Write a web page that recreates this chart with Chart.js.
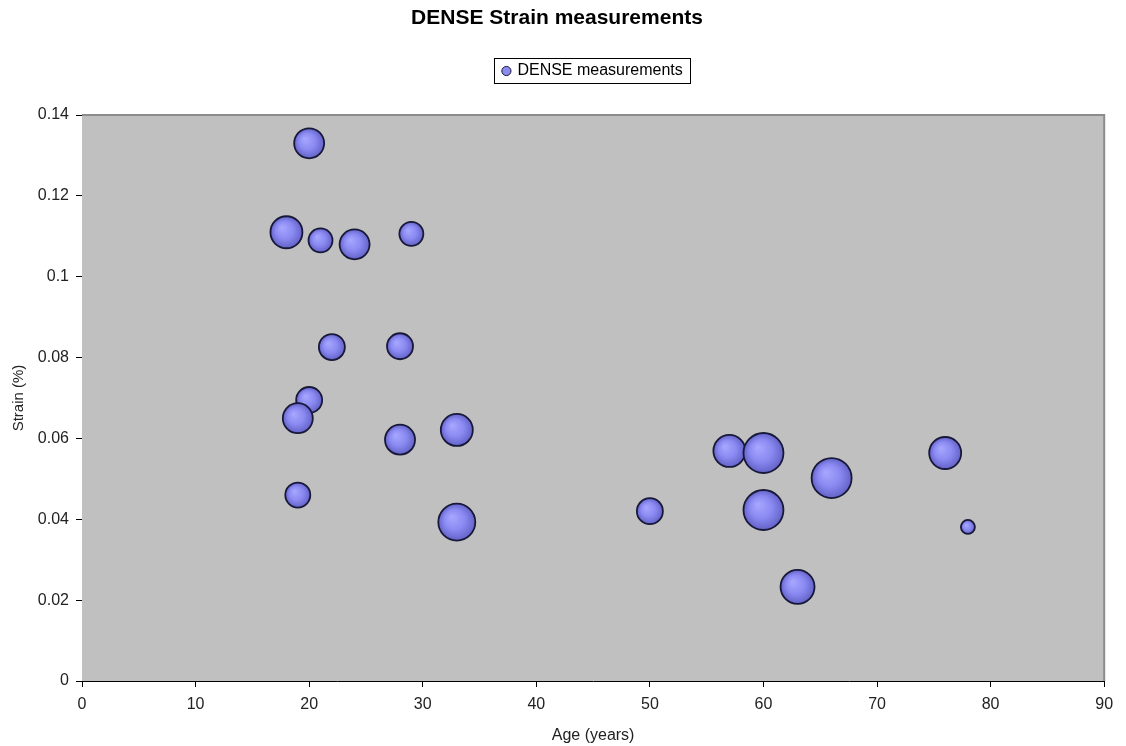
<!DOCTYPE html>
<html>
<head>
<meta charset="utf-8">
<title>DENSE Strain measurements</title>
<script src="https://cdn.jsdelivr.net/npm/chart.js@4/dist/chart.umd.min.js"></script>
<style>
    html, body { margin: 0; padding: 0; background: #fff; }
    #wrap { width: 1126px; height: 746px; }
</style>
</head>
<body>
<div id="wrap"><canvas id="strainGraf" width="1126" height="746"></canvas></div>
<script>
// values
var ages    = [20,    18,    21,    24,    29,     22,     28,     20,     19,    19,    28,     33,     33,     50,    57,     60,     66,     60,     63,     76,     78];
var strains = [0.133, 0.111, 0.109, 0.108, 0.1106, 0.0826, 0.0828, 0.0695, 0.065, 0.046, 0.0597, 0.0621, 0.0393, 0.042, 0.0569, 0.0564, 0.0502, 0.0423, 0.0233, 0.0564, 0.0381];
var sizes   = [15,    16,    12,    15,    12,     13,     13,     13,     15,    12.5,  15,     16,     18.5,   13,    16,     20,     20,     20,     17,     16,     7];
var xTicks = [0, 10, 20, 30, 40, 50, 60, 70, 80, 90];
var yTicks = [0, 0.02, 0.04, 0.06, 0.08, 0.1, 0.12, 0.14];

var points = [];
for (var i = 0; i < ages.length; i++) {
    points.push({x: ages[i], y: strains[i], r: sizes[i]});
}

var fontName = "'Liberation Sans', Arial, sans-serif";

// gray plot area with light top/right edge, box round the legend
var excelLook = {
    id: 'excelLook',
    beforeLayout: function (chart) {
        var lg = chart.legend;
        if (lg && !lg._extra) {
            var f = lg.fit;
            lg.fit = function () { f.call(this); this.height += 26; };
            lg._extra = true;
        }
    },
    beforeDatasetsDraw: function (chart) {
        var a = chart.chartArea, ctx = chart.ctx;
        ctx.save();
        ctx.fillStyle = '#c0c0c0';
        ctx.fillRect(a.left, a.top, a.right - a.left, a.bottom - a.top);
        ctx.strokeStyle = '#8c8c8c';
        ctx.lineWidth = 2;
        ctx.beginPath();
        ctx.moveTo(a.left, a.top);
        ctx.lineTo(a.right, a.top);
        ctx.lineTo(a.right, a.bottom);
        ctx.stroke();
        ctx.restore();
    },
    afterDraw: function (chart) {
        var hb = chart.legend.legendHitBoxes[0];
        if (!hb) return;
        var ctx = chart.ctx;
        ctx.save();
        ctx.strokeStyle = '#000';
        ctx.lineWidth = 1;
        ctx.strokeRect(Math.round(hb.left - 9) + 0.5, Math.round(hb.top - 5) + 0.5,
            Math.round(hb.width + 17), Math.round(hb.height + 9));
        ctx.restore();
    }
};

function bubbleFill(c) {
    if (c.type !== 'data' || !c.raw) return '#8c8cf0';
    var chart = c.chart, p = c.raw;
    var x = chart.scales.x.getPixelForValue(p.x);
    var y = chart.scales.y.getPixelForValue(p.y);
    if (!isFinite(x) || !isFinite(y)) return '#8c8cf0';
    var g = chart.ctx.createRadialGradient(x - p.r * 0.3, y - p.r * 0.3, 0, x, y, p.r);
    g.addColorStop(0, '#a8a8ff');
    g.addColorStop(0.55, '#8a8af2');
    g.addColorStop(1, '#6262c8');
    return g;
}

var ctxStrain = document.getElementById('strainGraf').getContext('2d');
var strainGraf = new Chart(ctxStrain, {
    type: 'bubble',
    data: {
        datasets: [{
            label: 'DENSE measurements',
            data: points,
            backgroundColor: bubbleFill,
            borderColor: '#181838',
            borderWidth: 1.8,
            hoverRadius: 0
        }]
    },
    options: {
        responsive: false,
        animation: false,
        events: [],
        layout: { padding: { left: 8, right: 20, top: 0, bottom: 1 } },
        plugins: {
            title: {
                display: true,
                text: 'DENSE Strain measurements',
                color: '#000',
                font: { family: fontName, size: 21, weight: 'bold' },
                padding: { top: 6, bottom: 21.8 }
            },
            legend: {
                display: true,
                position: 'top',
                fullSize: false,
                labels: {
                    color: '#000',
                    font: { family: fontName, size: 16 },
                    usePointStyle: true,
                    boxWidth: 6,
                    boxHeight: 6.5,
                    padding: 10,
                    generateLabels: function () {
                        return [{
                            text: 'DENSE measurements',
                            fillStyle: '#8c8cf0',
                            strokeStyle: '#181838',
                            lineWidth: 1,
                            pointStyle: 'circle',
                            datasetIndex: 0
                        }];
                    }
                }
            },
            tooltip: { enabled: false }
        },
        scales: {
            x: {
                type: 'linear',
                min: 0,
                max: 90,
                afterBuildTicks: function (scale) {
                    scale.ticks = xTicks.map(function (v) { return {value: v}; });
                },
                afterFit: function (scale) { scale.height = 746 - 681 - 1; },
                grid: { display: true, drawOnChartArea: false, drawTicks: true, tickLength: 6, color: '#000' },
                border: { display: true, color: '#000', width: 1 },
                ticks: { color: '#222', font: { family: fontName, size: 16 }, padding: 8 },
                title: {
                    display: true,
                    text: 'Age (years)',
                    color: '#222',
                    font: { family: fontName, size: 16 },
                    padding: { top: 0, bottom: 0 }
                }
            },
            y: {
                type: 'linear',
                min: 0,
                max: 0.14,
                afterBuildTicks: function (scale) {
                    scale.ticks = yTicks.map(function (v) { return {value: v}; });
                },
                afterFit: function (scale) { scale.width = 82 - 8; },
                grid: { display: true, drawOnChartArea: false, drawTicks: true, tickLength: 6, color: '#000' },
                border: { display: true, color: '#000', width: 1 },
                ticks: {
                    color: '#222',
                    font: { family: fontName, size: 16 },
                    padding: 7,
                    callback: function (v) { return String(+v.toFixed(2)); }
                },
                title: {
                    display: true,
                    text: 'Strain (%)',
                    color: '#222',
                    font: { family: fontName, size: 15 },
                    padding: { top: 2, bottom: 0 }
                }
            }
        }
    },
    plugins: [excelLook]
});
</script>
</body>
</html>
